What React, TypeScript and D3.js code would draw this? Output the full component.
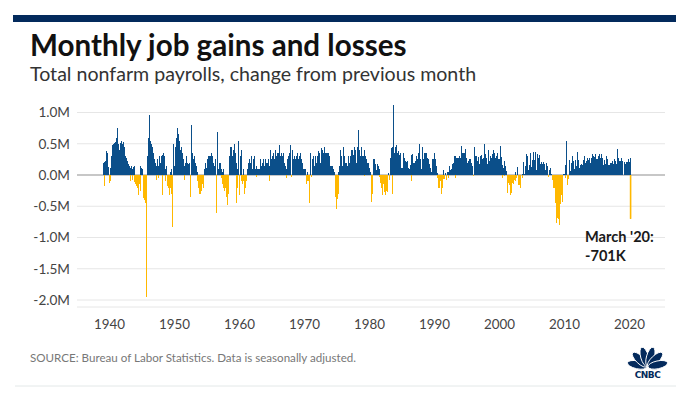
import React from "react";
import * as d3 from "d3";

// Monthly change in total nonfarm payrolls, thousands (seasonally adjusted)
// starts Feb 1939
const jobs1930s = [190, -170, 210, 180, 220, 380, 390, 350, 300, 130, 120];
const jobs1940s = [
  -120, 110, -100, 200, 300, 420, 480, 450, 500, 520, 480, 530,
  510, 600, 750, 720, 500, 380, 330, 400, 350, 520, 550, 480,
  500, 530, 520, 450, 400, 300, 280, 270, 250, 200, 220, 180,
  150, 150, 120, -100, 150, 120, -80, 100, 90, 130, -110, 150,
  -150, -180, -120, -200, -100, -320, -150, -150, -100, 150, -250, 120,
  120, 100, -370, -150, -300, -400, -350, -450, -1959, -570, 0, 300,
  600, 960, 650, 550, 450, 350, 500, 400, 450, 350, 300, 250,
  250, 200, 150, -80, 200, 250, 150, -50, 300, 250, 200, 150,
  300, 320, -320, 350, 250, 300, 200, 100, -100, 150, 50, -180,
  -250, -200, -320, -150, 50, -200, -300, 100, -200, -830, 500, 200,
];
const jobs1950s = [
  150, 250, 450, 500, 600, 750, 700, 650, 500, 450, 550, 400,
  600, 450, 350, 300, 250, 200, 150, -80, 200, 150, 300, 250,
  200, 150, 180, 100, 200, -350, -320, 800, 650, 300, 350, 250,
  250, 300, 200, 150, 100, 150, 50, -100, -150, -200, -300, -350,
  -300, -250, -200, -150, -50, -100, -200, 80, 100, 150, 200, 120,
  200, 250, 300, 280, 300, 250, 200, 300, 250, 350, 300, 250,
  200, 150, 150, 250, 200, -200, -610, 690, 150, 100, 50, 200,
  150, 200, 100, -50, -150, 50, 100, -200, -150, -250, -200, -200,
  -350, -480, -400, -300, -100, 150, 300, 450, 400, 200, 450, 300,
  350, 400, 500, 450, 350, 300, 200, -450, 100, -200, 550, 450,
];
const jobs1960s = [
  -320, 300, 200, 400, -100, -50, -150, 100, -100, -200, -300, -200,
  -150, -100, 50, 100, 200, 150, 250, 200, 150, 200, 300, 200,
  100, 250, 150, 300, 100, 50, 100, 150, -30, 100, 50, 100,
  150, 100, 200, 250, 100, 150, 200, 100, 250, 200, 150, 100,
  250, 200, 150, 200, 150, 250, 200, 150, -100, 400, 350, 250,
  250, 300, 250, 350, 200, 250, 300, 400, 250, 300, 350, 300,
  350, 300, 480, 250, 300, 350, 250, 200, 300, 350, 250, 200,
  250, 150, 100, -50, 200, 250, 200, 300, 100, 350, 480, 250,
  -30, 400, 250, 200, 250, 300, 200, 250, 200, 300, 250, 350,
  300, 250, 300, 200, 250, 350, 250, 200, 150, 200, 100, -100,
];
const jobs1970s = [
  100, 50, 100, -100, -150, -100, 50, -100, -50, -450, 0, 350,
  50, -30, 100, 250, 300, 0, 150, 0, 300, 100, 200, 250,
  300, 200, 380, 350, 250, 200, 120, 430, 200, 400, 300, 350,
  250, 450, 350, 250, 350, 250, 150, 350, 200, 350, 300, 150,
  150, 150, 50, 150, 100, 50, 100, 0, 50, -50, -350, -550,
  -600, -380, -300, 50, 150, 50, 250, 400, 250, 300, 150, 500,
  450, 300, 300, 200, 50, 100, 200, 150, 50, 150, 300, 200,
  150, 300, 400, 400, 350, 400, 320, 300, 450, 300, 400, 350,
  200, 450, 450, 720, 350, 400, 250, 250, 300, 400, 450, 300,
  250, 300, 400, -20, 300, 250, 250, 100, 150, 200, 200, 150,
];
const jobs1980s = [
  120, 50, 0, -320, -430, -300, -180, 250, 100, 250, 250, 180,
  100, 80, 120, 180, 10, 150, 100, -30, -130, -20, -200, -270,
  -320, -20, -140, -270, -40, -220, -320, -150, -250, -270, -130, 30,
  230, -80, 200, 280, 320, 440, 450, -310, 1120, 280, 350, 350,
  450, 480, 280, 360, 300, 380, 330, 240, 320, 290, 350, 120,
  280, 120, 360, 190, 280, 100, 230, 200, 210, 190, 220, 250,
  120, 100, 80, 160, 140, -90, 320, 120, 340, 130, 200, 200,
  170, 220, 250, 300, 200, 250, 350, 200, 280, 500, 250, 300,
  100, 450, 250, 250, 200, 350, 250, 120, 350, 250, 350, 280,
  270, 250, 180, 170, 110, 100, 50, 50, 250, 100, 250, 100,
];
const jobs1990s = [
  350, 250, 200, 50, 150, 30, -50, -200, -100, -150, -200, -100,
  -130, -300, -200, -180, -60, 80, -60, -10, 40, 20, -80, 20,
  50, -50, 50, 150, 120, 70, 80, 100, 40, 180, 130, 200,
  150, 300, -40, 300, 270, 200, 270, 220, 250, 280, 300, 300,
  280, 200, 460, 350, 330, 300, 350, 280, 350, 210, 420, 280,
  350, 200, 230, 150, 0, 250, 150, 250, 200, 150, 150, 120,
  -20, 450, 250, 170, 310, 300, 200, 180, 230, 240, 290, 170,
  230, 300, 320, 300, 240, 250, 280, 50, 500, 300, 330, 300,
  270, 180, 150, 280, 400, 220, 150, 300, 210, 200, 280, 340,
  200, 400, 100, 350, 200, 270, 300, 150, 230, 350, 260, 300,
];
const jobs2000s = [
  250, 110, 470, 290, 220, -50, 160, 10, 120, -10, 220, 140,
  -15, 61, -29, -281, -44, -128, -125, -160, -244, -325, -292, -178,
  -134, -146, -24, -85, -7, 46, -98, -5, -54, 126, 8, -157,
  88, -157, -213, -49, -6, 1, 22, -44, 105, 203, 15, 124,
  150, 44, 338, 250, 310, 82, 44, 127, 160, 347, 65, 133,
  136, 240, 142, 363, 169, 246, 373, 195, 67, 84, 334, 158,
  277, 315, 280, 181, 23, 82, 208, 183, 157, 2, 210, 171,
  238, 88, 188, 78, 143, 78, -33, -16, 85, 82, 118, 97,
  17, -84, -78, -210, -185, -165, -209, -266, -452, -473, -770, -695,
  -791, -703, -800, -695, -346, -467, -325, -214, -438, -201, 13, -274,
];
const jobs2010s = [
  12, -53, 158, 236, 540, -167, -63, -12, -57, 244, 127, 68,
  69, 196, 216, 311, 122, 225, 72, 104, 237, 206, 139, 209,
  361, 226, 243, 96, 112, 87, 153, 165, 176, 151, 155, 238,
  190, 311, 135, 192, 218, 146, 140, 268, 146, 237, 275, 45,
  187, 168, 272, 329, 246, 304, 232, 218, 286, 200, 331, 260,
  195, 263, 84, 309, 329, 157, 277, 150, 149, 339, 272, 270,
  168, 236, 225, 184, 22, 292, 300, 158, 249, 124, 159, 165,
  245, 195, 74, 190, 138, 232, 181, 129, 18, 263, 218, 172,
  176, 410, 103, 182, 276, 231, 132, 232, 135, 271, 170, 227,
  312, 1, 147, 210, 85, 182, 194, 207, 208, 185, 261, 184,
];
const jobs2020s = [214, 275, -701];

const yTicks = [1, 0.5, 0, -0.5, -1, -1.5, -2];
const yTickLabels = ["1.0M", "0.5M", "0.0M", "-0.5M", "-1.0M", "-1.5M", "-2.0M"];
const xTicks = [1940, 1950, 1960, 1970, 1980, 1990, 2000, 2010, 2020];

const START_YEAR = 1939;
const START_MONTH = 1; // Feb (0-based)

const series = [
  ...jobs1930s, ...jobs1940s, ...jobs1950s, ...jobs1960s, ...jobs1970s,
  ...jobs1980s, ...jobs1990s, ...jobs2000s, ...jobs2010s, ...jobs2020s,
].map((v, i) => ({ t: START_YEAR + (START_MONTH + i) / 12, v: v / 1000 }));

const BLUE = "#0b4f8a";
const GOLD = "#ffb800";
const NAVY = "#032a5c";

export default function App() {
  const x = d3.scaleLinear().domain([1935, 2025.46]).range([77, 665]);
  const y = d3.scaleLinear().domain([-2, 1]).range([300, 112.5]);
  const step = x(1 / 12) - x(0);
  const bw = step * 1.7;
  const last = series[series.length - 1];

  const feathers = [-168, -136, -106, -74, -44, -12];

  return (
    <svg
      width={700}
      height={399}
      style={{ position: "absolute", left: 0, top: 0, background: "#fff" }}
      fontFamily="Lato, 'Open Sans', sans-serif"
    >
      <rect x={0} y={0} width={700} height={399} fill="#fff" />
      <rect x={13} y={15} width={663} height={7} fill={NAVY} />
      <text x={30} y={56} fontSize={29.6} fontWeight={700} fill="#111">
        Monthly job gains and losses
      </text>
      <text x={30} y={81} fontSize={19.6} fill="#333">
        Total nonfarm payrolls, change from previous month
      </text>

      {yTicks.map((t, i) => (
        <g key={t}>
          <line
            x1={77}
            x2={665}
            y1={y(t)}
            y2={y(t)}
            stroke={t === 0 ? "#b5b5b5" : "#e6e6e6"}
            strokeWidth={t === 0 ? 1.5 : 1}
          />
          <text
            x={70}
            y={y(t) + 4.8}
            textAnchor="end"
            fontSize={13.6}
            fill="#444"
          >
            {yTickLabels[i]}
          </text>
        </g>
      ))}
      <line x1={77} x2={665} y1={307} y2={307} stroke="#e6e6e6" />

      <g shapeRendering="crispEdges">
        {series.map((d, i) =>
          d.v === 0 ? null : (
            <rect
              key={i}
              x={x(d.t) - bw / 2}
              width={bw}
              y={d.v > 0 ? y(d.v) : y(0)}
              height={Math.abs(y(d.v) - y(0))}
              fill={d.v > 0 ? BLUE : GOLD}
            />
          )
        )}
      </g>
      <rect
        x={x(last.t) - 0.8}
        width={1.6}
        y={y(0)}
        height={y(last.v) - y(0)}
        fill={GOLD}
      />

      {xTicks.map((t) => (
        <text
          key={t}
          x={x(t)}
          y={329}
          textAnchor="middle"
          fontSize={13.4}
          fill="#444"
        >
          {t}
        </text>
      ))}

      <text x={585} y={242} fontSize={14.6} fontWeight={700} fill="#1a1a1a">
        March '20:
      </text>
      <text x={585} y={261} fontSize={14.6} fontWeight={700} fill="#1a1a1a">
        -701K
      </text>

      <text x={30} y={362} fontSize={11.6} fill="#777">
        SOURCE: Bureau of Labor Statistics. Data is seasonally adjusted.
      </text>

      <g transform="translate(647.5,367)">
        {feathers.map((a) => (
          <ellipse
            key={a}
            cx={0}
            cy={0}
            rx={3.9}
            ry={10}
            fill={NAVY}
            stroke="#fff"
            strokeWidth={0.9}
            transform={`rotate(${a + 90}) translate(0,-10.5)`}
          />
        ))}
        <text
          x={0}
          y={10.5}
          textAnchor="middle"
          fontSize={9}
          fontWeight={900}
          fill={NAVY}
          fontFamily="'DejaVu Sans', sans-serif"
          letterSpacing={-0.5}
        >
          CNBC
        </text>
      </g>

      <line x1={15} x2={676} y1={386} y2={386} stroke="#e3e8e8" />
    </svg>
  );
}
